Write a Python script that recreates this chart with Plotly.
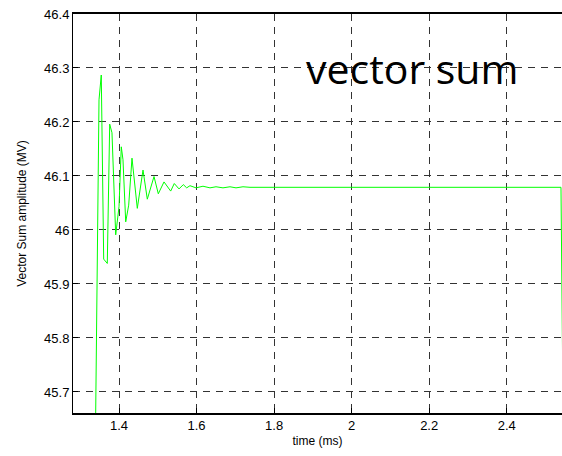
import plotly.graph_objects as go

time_ms = [1.3394, 1.3484, 1.3543, 1.3605, 1.3698, 1.3760, 1.3819, 1.3915, 1.4000,
           1.4059, 1.4103, 1.4173, 1.4250, 1.4335, 1.4472, 1.4619, 1.4730, 1.4903,
           1.5014, 1.5161, 1.5333, 1.5426, 1.5548, 1.5658, 1.5746, 1.5831, 1.5986,
           1.6166, 1.6347, 1.6502, 1.6682, 1.6863, 1.7018, 1.7198, 1.7379, 2.5400, 2.5540]
amplitude = [45.630, 46.241, 46.287, 45.946, 45.938, 46.196, 46.180, 45.991, 46.043,
             46.154, 46.130, 46.015, 46.046, 46.133, 46.040, 46.111, 46.057, 46.099,
             46.067, 46.089, 46.072, 46.086, 46.076, 46.084, 46.078, 46.082, 46.078,
             46.081, 46.078, 46.080, 46.078, 46.080, 46.078, 46.080, 46.079, 46.079, 45.000]

x_ticks = [1.4, 1.6, 1.8, 2.0, 2.2, 2.4]
x_ticktext = ["1.4", "1.6", "1.8", "2", "2.2", "2.4"]
y_ticks = [45.7, 45.8, 45.9, 46.0, 46.1, 46.2, 46.3, 46.4]
y_ticktext = ["45.7", "45.8", "45.9", "46", "46.1", "46.2", "46.3", "46.4"]

fig = go.Figure()
fig.add_trace(go.Scatter(x=time_ms, y=amplitude, mode="lines",
                         line=dict(color="#00ff00", width=1), showlegend=False))

pw = 562 - 73
ph = 456 - 14 - 43

fig.update_layout(
    width=562, height=456,
    margin=dict(l=73, r=0, t=14, b=43),
    paper_bgcolor="white", plot_bgcolor="white",
    font=dict(family="Liberation Sans, Arial, sans-serif", color="black", size=13),
    xaxis=dict(range=[1.28135, 2.54264], tickvals=x_ticks, ticktext=x_ticktext,
               showgrid=True, gridcolor="#333333", gridwidth=1, griddash="7px,6px",
               showline=True, linecolor="black", linewidth=1.5, mirror=True,
               ticks="inside", ticklen=5, tickcolor="black", zeroline=False,
               title=dict(text="time (ms)", font=dict(size=12), standoff=4)),
    yaxis=dict(range=[45.661, 46.4], tickvals=y_ticks, ticktext=y_ticktext,
               showgrid=True, gridcolor="#333333", gridwidth=1, griddash="7px,6px",
               showline=True, linecolor="black", linewidth=1,
               ticks="inside", ticklen=5, tickcolor="black", zeroline=False,
               title=dict(text="Vector Sum amplitude (MV)", font=dict(size=12), standoff=14)),
    annotations=[dict(text="vector sum", x=(412 - 73) / pw, y=1 - (68 - 14) / ph,
                      xref="paper", yref="paper", xanchor="center", yanchor="middle",
                      showarrow=False,
                      font=dict(family="Open Sans, sans-serif", size=41, color="black"))],
)

fig.write_html("out.html")
